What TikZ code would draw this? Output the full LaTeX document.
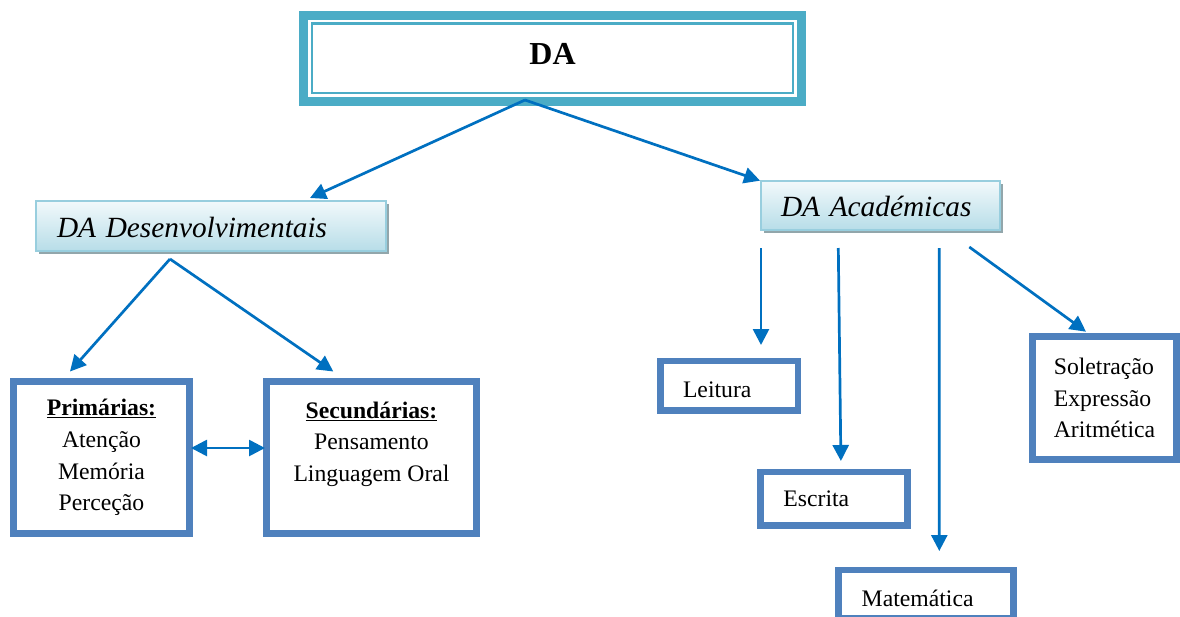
\documentclass[tikz,border=0pt]{standalone}
\usepackage{fontspec}
\setmainfont{Liberation Serif}
\usepackage{tikz}
\usetikzlibrary{arrows.meta, positioning, shadows}
\definecolor{rootcolor}{RGB}{75, 172, 198}
\definecolor{boxcolor}{RGB}{79, 129, 189}
\definecolor{linkcolor}{RGB}{0, 112, 192}
\definecolor{groupline}{RGB}{152, 206, 222}
\definecolor{grouptop}{RGB}{242, 249, 251}
\definecolor{groupbottom}{RGB}{183, 221, 232}
\definecolor{groupshadow}{RGB}{146, 166, 171}

\begin{document}
\begin{tikzpicture}[
    x=1pt, y=-1pt,
    every node/.style={outer sep=0pt},
    rootbox/.style={draw=rootcolor, line width=9pt, fill=white, minimum width=498pt, minimum height=86pt, font=\fontsize{32}{36}\selectfont\bfseries, text height=21pt, text depth=9.4pt},
    rootinner/.style={draw=rootcolor, line width=2.5pt},
    groupbox/.style={draw=groupline, line width=2pt, top color=grouptop, bottom color=groupbottom, drop shadow={shadow xshift=3pt, shadow yshift=-3pt, fill=groupshadow, opacity=1}, font=\fontsize{29.3}{35}\selectfont\itshape, align=left, text height=22pt, text depth=0pt},
    leafbox/.style={draw=boxcolor, line width=6.5pt, fill=white, font=\fontsize{23.7}{31.7}\selectfont},
    link/.style={draw=linkcolor, line width=2.7pt, -{Triangle[length=16pt, width=16pt]}}
]
    \useasboundingbox (0,0) rectangle (1180,616);
    \clip (0,0) rectangle (1180,616);

    % Root
    \node[rootbox] (da) at (552.5,58.5) {DA};
    \draw[rootinner] ([shift={(8.5,8)}]da.north west) rectangle ([shift={(-8.5,-8.5)}]da.south east);

    % Groups
    \node[groupbox, minimum width=350pt, minimum height=50pt, text width=308pt, inner xsep=21pt] (desenv) at (211,226) {DA Desenvolvimentais};
    \node[groupbox, minimum width=239pt, minimum height=49pt, text width=199pt, inner xsep=20pt] (acad) at (880.5,205.5) {DA Académicas};

    % Developmental - left side
    \node[leafbox, align=center, minimum width=176pt, minimum height=152pt] (prim) at (101.5,457.5) {\underline{\textbf{Primárias:}}\\Atenção\\Memória\\Perceção};
    \node[leafbox, align=center, minimum width=210pt, minimum height=152pt] (sec) at (371.5,457.5) {\underline{\textbf{Secundárias:}}\\Pensamento\\Linguagem Oral\\~};

    % Academic - right side
    \node[leafbox, align=left, minimum width=137.5pt, minimum height=49.5pt, text width=92.5pt, inner xsep=22.5pt, text height=23.2pt, text depth=0pt] (leit) at (729.25,385.75) {Leitura};
    \node[leafbox, align=left, minimum width=147pt, minimum height=53.7pt, text width=101.6pt, inner xsep=22.7pt, text height=15.4pt, text depth=0pt] (escr) at (834.2,498.85) {Escrita};
    \node[leafbox, align=left, minimum width=175.2pt, minimum height=48.5pt, text width=128.4pt, inner xsep=23.4pt, text height=23.6pt, text depth=0pt] (mate) at (925.9,594.25) {Matemática};
    \node[leafbox, align=left, minimum width=144.4pt, minimum height=123.4pt] (sole) at (1104.5,398) {Soletração\\Expressão\\Aritmética};

    % Connections
    \draw[link] ([xshift=-27.5pt, yshift=1.5pt]da.south) -- ([xshift=99pt, yshift=3pt]desenv.north);
    \draw[link, shorten >=1pt] ([xshift=-27.5pt, yshift=1.5pt]da.south) -- (acad.north west);

    \draw[link] ([xshift=-41pt, yshift=-8pt]desenv.south) -- ([xshift=-31.5pt, yshift=10pt]prim.north);
    \draw[link] ([xshift=-41pt, yshift=-8pt]desenv.south) -- ([xshift=-38.2pt, yshift=10pt]sec.north);
    \draw[link, {Triangle[length=16pt, width=16pt]}-{Triangle[length=16pt, width=16pt]}, shorten <=1.5pt, shorten >=1.5pt] ([yshift=9.5pt]prim.east) -- ([yshift=9.5pt]sec.west);

    \draw[link, shorten <=18pt, shorten >=16pt] (acad.south west) -- (acad.south west |- leit.north);
    \draw[link] ([xshift=-42.2pt, yshift=-18pt]acad.south) -- ([xshift=6.7pt, yshift=11pt]escr.north);
    \draw[link] ([xshift=58.8pt, yshift=-18pt]acad.south) -- ([xshift=13.4pt, yshift=19pt]mate.north);
    \draw[link] ([xshift=88.8pt, yshift=-17pt]acad.south) -- ([xshift=-18.5pt, yshift=4.6pt]sole.north);

\end{tikzpicture}
\end{document}
